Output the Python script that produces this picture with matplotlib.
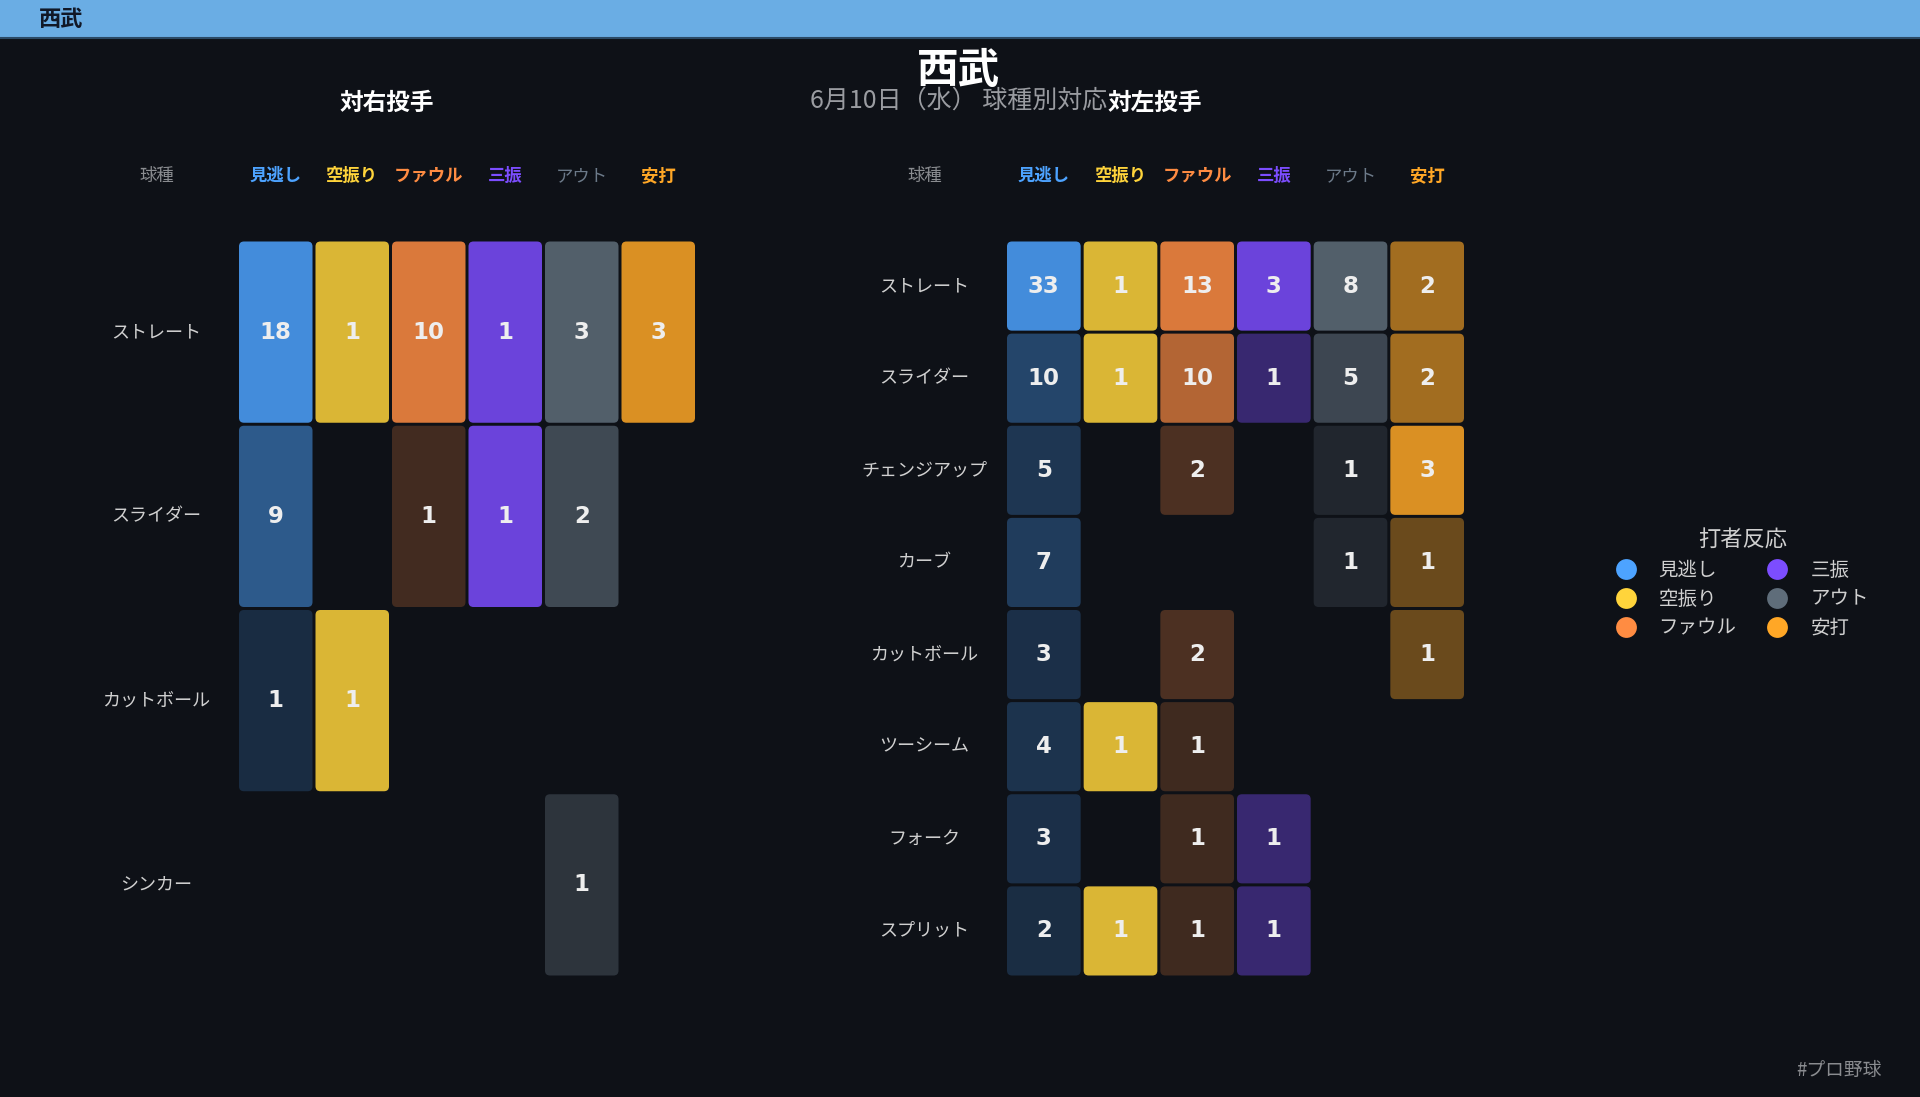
import matplotlib.pyplot as plt
import numpy as np
from matplotlib.patches import FancyBboxPatch, Rectangle
from matplotlib.lines import Line2D
from matplotlib.colors import to_rgba
from matplotlib.transforms import blended_transform_factory

plt.rcParams['font.family'] = ['Noto Sans CJK JP', 'DejaVu Sans']

# --- データ ---
reactions = ["見逃し", "空振り", "ファウル", "三振", "アウト", "安打"]
reaction_colors = ["#4DA3FF", "#FFD43B", "#FF8C42", "#7C4DFF", "#5F6D7A", "#FFA726"]

pitches_rhp = ["ストレート", "スライダー", "カットボール", "シンカー"]
counts_rhp = np.array([
    [18, 1, 10, 1, 3, 3],
    [9, 0, 1, 1, 2, 0],
    [1, 1, 0, 0, 0, 0],
    [0, 0, 0, 0, 1, 0],
])

pitches_lhp = ["ストレート", "スライダー", "チェンジアップ", "カーブ",
               "カットボール", "ツーシーム", "フォーク", "スプリット"]
counts_lhp = np.array([
    [33, 1, 13, 3, 8, 2],
    [10, 1, 10, 1, 5, 2],
    [5, 0, 2, 0, 1, 3],
    [7, 0, 0, 0, 1, 1],
    [3, 0, 2, 0, 0, 1],
    [4, 1, 1, 0, 0, 0],
    [3, 0, 1, 1, 0, 0],
    [2, 1, 1, 1, 0, 0],
])

team = "西武"
subtitle = "6月10日（水） 球種別対応"

BG = "#0E1117"
FIG_W, FIG_H = 1920, 1097

fig = plt.figure(figsize=(FIG_W / 100, FIG_H / 100), dpi=100, facecolor=BG)

# 上部バー
fig.add_artist(Rectangle((0, 1 - 38 / FIG_H), 1, 38 / FIG_H, transform=fig.transFigure,
                         facecolor="#6AADE4", edgecolor="none"))
fig.add_artist(Line2D([0, 1], [1 - 38 / FIG_H] * 2, transform=fig.transFigure,
                      color="#2B4A66", lw=1.5))
fig.text(39 / FIG_W, 1 - 19 / FIG_H, team, color="#111827", fontsize=16,
         fontweight="bold", ha="left", va="center")

fig.text(0.4995, 1 - 71 / FIG_H, team, color="white", fontsize=30,
         fontweight="bold", ha="center", va="center")
fig.text(0.4995, 1 - 101 / FIG_H, subtitle, color="#9A9CA1", fontsize=18,
         ha="center", va="center")


def draw_panel(rect, title, pitches, counts):
    ax = fig.add_axes(rect)
    ax.set_facecolor(BG)
    n = len(pitches)
    ax.set_xlim(-0.5, 5.5)
    ax.set_ylim(n - 0.5, -0.5)
    ax.axis("off")

    px_x = FIG_W * rect[2] / 6
    px_y = FIG_H * rect[3] / n
    gap_x, gap_y = 3 / px_x, 3 / px_y
    r = 5 / px_x
    for j in range(6):
        cmax = counts[:, j].max()
        for i in range(n):
            v = counts[i, j]
            if v == 0:
                continue
            a = 0.15 + 0.7 * v / cmax
            ax.add_patch(FancyBboxPatch(
                (j - 0.5 + gap_x / 2, i - 0.5 + gap_y / 2), 1 - gap_x, 1 - gap_y,
                boxstyle=f"round,pad=0,rounding_size={r}", mutation_aspect=px_x / px_y,
                facecolor=to_rgba(reaction_colors[j], a), edgecolor="none"))
            ax.text(j, i, str(v), color="#EEEEEE", fontsize=16.5, fontweight="bold",
                    family="DejaVu Sans", ha="center", va="center")

    head_y = 1 + 64 / (FIG_H * rect[3])
    lab_x = -81 / (FIG_W * rect[2])
    tr_head = blended_transform_factory(ax.transData, ax.transAxes)
    for j, name in enumerate(reactions):
        ax.text(j, head_y, name, transform=tr_head, color=reaction_colors[j] if j != 4 else "#6C7A89",
                fontsize=12.5, fontweight="bold" if j != 4 else "normal",
                ha="center", va="center")
    ax.text(lab_x, head_y, "球種", transform=ax.transAxes, color="#8A8C90",
            fontsize=12.5, ha="center", va="center")
    tr_row = blended_transform_factory(ax.transAxes, ax.transData)
    for i, name in enumerate(pitches):
        ax.text(lab_x, i, name, transform=tr_row, color="#D0D0D0", fontsize=13,
                ha="center", va="center")
    ax.text(0.325, 1 + 137 / (FIG_H * rect[3]), title, transform=ax.transAxes,
            color="white", fontsize=17, fontweight="bold", ha="center", va="center")
    return ax


bottom = 1 - 977 / FIG_H
height = 737 / FIG_H
draw_panel([237.5 / FIG_W, bottom, 459 / FIG_W, height], "対右投手", pitches_rhp, counts_rhp)
draw_panel([1005.5 / FIG_W, bottom, 460 / FIG_W, height], "対左投手", pitches_lhp, counts_lhp)

handles = [Line2D([], [], marker="o", linestyle="none", markersize=15,
                  markerfacecolor=c, markeredgecolor="none") for c in reaction_colors]
leg = fig.legend(handles, reactions, ncol=2, loc="center", bbox_to_anchor=(0.9075, 0.468),
                 frameon=False, title="打者反応", fontsize=14, title_fontsize=16,
                 labelcolor="#D0D0D0", handlelength=1.0, handletextpad=1.2,
                 columnspacing=1.6, labelspacing=0.42)
leg.get_title().set_color("#D0D0D0")

fig.text(1882 / FIG_W, 1 - 1070 / FIG_H, "#プロ野球", color="#8A8C90", fontsize=13.5,
         ha="right", va="center")

fig.savefig("out.png", dpi=100, facecolor=BG)
